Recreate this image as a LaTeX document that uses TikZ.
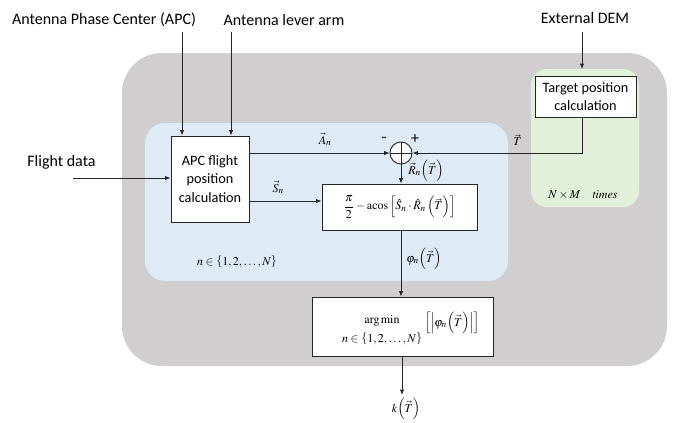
\documentclass[tikz,border=0pt]{standalone}
\usepackage{amsmath}
\usepackage{mathptmx}
\usepackage[no-math]{fontspec}
\setmainfont{Carlito}
\usetikzlibrary{arrows.meta}
\definecolor{grayfill}{HTML}{D0CECE}
\definecolor{bluefill}{HTML}{DEEBF7}
\definecolor{greenfill}{HTML}{E2F0D9}
\begin{document}
\begin{tikzpicture}[x=0.75pt,y=-0.75pt,
  conn/.style={draw=black!85, line width=0.6pt, -{Latex[length=4pt,width=3.2pt]}},
  plain/.style={draw=black!85, line width=0.6pt},
  procbox/.style={draw=black!85, line width=0.7pt, fill=white, inner sep=0pt},
  lbl/.style={font=\fontsize{12}{14}\selectfont, inner sep=0pt},
  boxtxt/.style={font=\fontsize{10.7}{14}\selectfont, align=center},
  mth/.style={font=\fontsize{9}{11}\selectfont, inner sep=0pt}]
\useasboundingbox (0,0) rectangle (678,422);
% regions
\fill[grayfill, rounded corners=30] (122,53) rectangle (667,366);
\fill[bluefill, rounded corners=15] (145,123) rectangle (508,281);
\fill[greenfill, rounded corners=12] (531,69) rectangle (639,207);
\coordinate (greentop) at (582,69);
% boxes
\node[procbox, boxtxt, minimum width=78*0.75pt, minimum height=86*0.75pt] (apc) at (210,179) {APC flight\\position\\calculation};
\node[procbox, boxtxt, minimum width=101*0.75pt, minimum height=41*0.75pt] (tgt) at (585.5,96.5) {Target position\\calculation};
\node[procbox, mth, minimum width=155*0.75pt, minimum height=46*0.75pt] (fml) at (399.5,207) {$\dfrac{\pi}{2}-\mathrm{acos}\left[\hat{S}_n\cdot\hat{R}_n\left(\vec{T}\right)\right]$};
\node[procbox, minimum width=181*0.75pt, minimum height=59*0.75pt] (amin) at (402.5,326.5) {};
\node[mth] (aminop) at (382,321) {$\arg\min$};
\node[mth] (aminset) at (382,339) {$n\in\left\{1,2,\ldots,N\right\}$};
\node[mth] (aminarg) at (452,323) {$\left[\left|\varphi_n\!\left(\vec{T}\right)\right|\right]$};
\node[draw=black!85, line width=0.7pt, fill=white, circle, minimum size=22*0.75pt, inner sep=0pt] (sum) at (401,153) {};
\draw[plain] (sum.north) -- (sum.south) (sum.west) -- (sum.east);
% outside labels
\node[lbl] (lapc) at (104,20) {Antenna Phase Center (APC)};
\node[lbl] (llev) at (284,20) {Antenna lever arm};
\node[lbl] (ldem) at (585,18) {External DEM};
\node[lbl] (lfl) at (61.5,162) {Flight data};
\coordinate (apcstart) at (182,32);
\coordinate (levstart) at (231,32);
\coordinate (demstart) at (582,32);
\coordinate (flstart) at (73,178);
\coordinate (tcorner) at (582,153);
\coordinate (sy) at (0,201);
\coordinate (phiTop) at (401,230);
\coordinate (kstart) at (402,356);
\coordinate (kend) at (402,395);
% connectors
\draw[conn] (apcstart) -- (apcstart |- apc.north);
\draw[conn] (levstart) -- (levstart |- apc.north);
\draw[conn] (demstart) -- (greentop);
\draw[conn] (flstart) -- (flstart -| apc.west);
\draw[conn] (apc.east |- sum.west) -- node[mth, above=5pt, pos=0.54] {$\vec{A}_n$} (sum.west);
\draw[conn] (tcorner |- tgt.south) -- (tcorner) -- node[mth, above=5pt, pos=0.38] {$\vec{T}$} (sum.east);
\draw[conn] (sum.south) -- (sum.south |- fml.north);
\node[mth, anchor=west] (rlab) at (408,171) {$\vec{R}_n\!\left(\vec{T}\right)$};
\node[lbl] (minus) at (384,140) {-};
\node[lbl] (plus) at (415,139) {+};
\draw[conn] (apc.east |- sy) -- node[mth, above=5pt, pos=0.4] {$\vec{S}_n$} (fml.west |- sy);
\draw[conn] (phiTop) -- (phiTop |- amin.north);
\node[mth, anchor=west] (philab) at (406,259) {$\varphi_n\!\left(\vec{T}\right)$};
\draw[conn] (kstart) -- (kend);
\node[mth] (klab) at (406,409) {$k\!\left(\vec{T}\right)$};
\node[mth] (nset) at (237,262) {$n\in\left\{1,2,\ldots,N\right\}$};
\node[mth] (times) at (583,195) {$N\times M\quad \mathit{times}$};
\end{tikzpicture}
\end{document}
